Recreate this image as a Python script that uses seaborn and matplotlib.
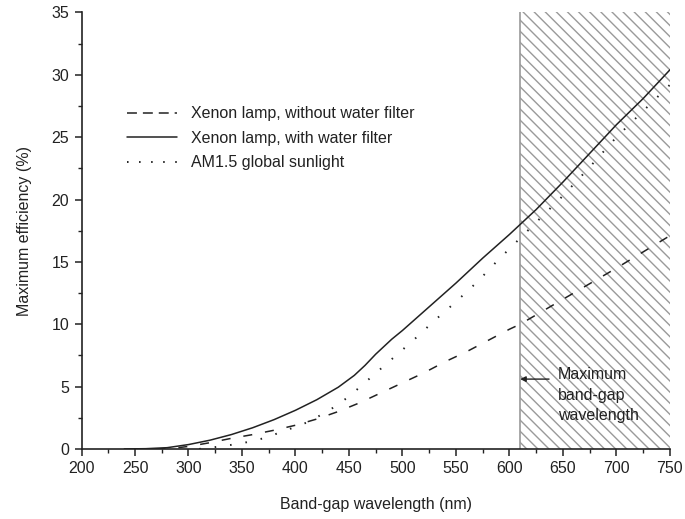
import copy
import numpy as np
import pandas as pd
import matplotlib
matplotlib.use("Agg")
import matplotlib.pyplot as plt
import seaborn as sns

# Xenon lamp with water filter (solid)
wl_water = [240, 260, 280, 300, 320, 340, 360, 380, 400, 420, 440, 455, 465, 475,
            490, 500, 525, 550, 575, 600, 610, 625, 650, 675, 700, 725, 750]
eff_water = [0.0, 0.02, 0.1, 0.35, 0.7, 1.15, 1.7, 2.35, 3.1, 3.95, 4.95, 5.9, 6.7, 7.6,
             8.8, 9.5, 11.4, 13.3, 15.3, 17.2, 18.0, 19.2, 21.4, 23.7, 26.0, 28.1, 30.4]

# Xenon lamp without water filter (dashed)
wl_nofilter = [270, 290, 300, 320, 340, 360, 380, 400, 420, 440, 460, 480, 500, 520,
               540, 560, 580, 600, 610, 650, 700, 750]
eff_nofilter = [0.0, 0.1, 0.2, 0.5, 0.85, 1.15, 1.5, 1.9, 2.4, 3.0, 3.7, 4.5, 5.3, 6.1,
                7.0, 7.8, 8.7, 9.6, 10.0, 12.0, 14.5, 17.1]

# AM1.5 global sunlight (dotted)
wl_sun = [310, 330, 350, 370, 390, 410, 430, 450, 470, 490, 510, 530, 550, 570, 590,
          610, 630, 650, 675, 700, 725, 750]
eff_sun = [0.0, 0.2, 0.45, 0.85, 1.45, 2.1, 3.0, 4.2, 5.7, 7.2, 8.7, 10.3, 11.8, 13.4, 15.2,
           16.9, 18.6, 20.3, 22.6, 25.0, 27.1, 29.2]

max_gap_wl = 610

sns.set_theme(style="ticks")
plt.rcParams["font.family"] = ["Liberation Sans", "DejaVu Sans"]

fig = plt.figure(figsize=(6.85, 5.19), dpi=100)
ax = fig.add_axes([0.119, 0.135, 0.859, 0.841])

ink = "#222222"
fs = 11.5

# hatched region beyond the maximum band-gap wavelength
ax.axvspan(max_gap_wl, 750, facecolor="none", edgecolor="#9a9a9a", hatch="\\\\\\", lw=0, zorder=0)
ax.axvline(max_gap_wl, color="#9a9a9a", lw=1.2, zorder=1)

sns.lineplot(x=wl_nofilter, y=eff_nofilter, ax=ax, color=ink, lw=1.1,
             linestyle=(0, (5.9, 8.5)), label="Xenon lamp, without water filter")
sns.lineplot(x=wl_water, y=eff_water, ax=ax, color=ink, lw=1.1,
             label="Xenon lamp, with water filter")
sns.lineplot(x=wl_sun, y=eff_sun, ax=ax, color=ink, lw=1.4,
             linestyle=(0, (0.8, 7.2)), label="AM1.5 global sunlight")

ax.set_xlim(200, 750)
ax.set_ylim(0, 35)
ax.set_xticks(np.arange(200, 751, 50))
ax.set_xticks(np.arange(200, 751, 25), minor=True)
ax.set_yticks(np.arange(0, 36, 5))
ax.set_yticks(np.arange(0, 35.1, 2.5), minor=True)
ax.tick_params(which="major", length=5, width=1.1, color=ink, labelsize=fs,
               labelcolor=ink, pad=4, direction="out")
ax.tick_params(which="minor", length=3, width=1.0, color=ink, direction="out")
ax.set_xlabel("Band-gap wavelength (nm)", fontsize=fs, color=ink, labelpad=15)
ax.set_ylabel("Maximum efficiency (%)", fontsize=fs, color=ink, labelpad=14)
for side in ["left", "bottom"]:
    ax.spines[side].set_linewidth(1.2)
    ax.spines[side].set_color(ink)
sns.despine(ax=ax)

# legend keys use tighter dash patterns than the curves
handles, labels = ax.get_legend_handles_labels()
handles = [copy.copy(h) for h in handles]
handles[0].set_linestyle((0, (6.5, 3.9)))
handles[2].set_linestyle((0, (0.8, 5.4)))
ax.legend(handles, labels, loc="upper left", bbox_to_anchor=(0.078, 0.785), frameon=False,
          fontsize=fs, handlelength=3.1, handletextpad=0.9, labelspacing=0.6, borderpad=0,
          borderaxespad=0, labelcolor=ink)

ax.annotate("", xy=(max_gap_wl, 5.6), xytext=(637, 5.6),
            arrowprops=dict(arrowstyle="-|>", color=ink, lw=1.0, mutation_scale=8,
                            shrinkA=0, shrinkB=0))
ax.text(645, 4.3, "Maximum\nband-gap\nwavelength", fontsize=fs, color=ink,
        ha="left", va="center", linespacing=1.45)

fig.savefig("out.png", dpi=100)
